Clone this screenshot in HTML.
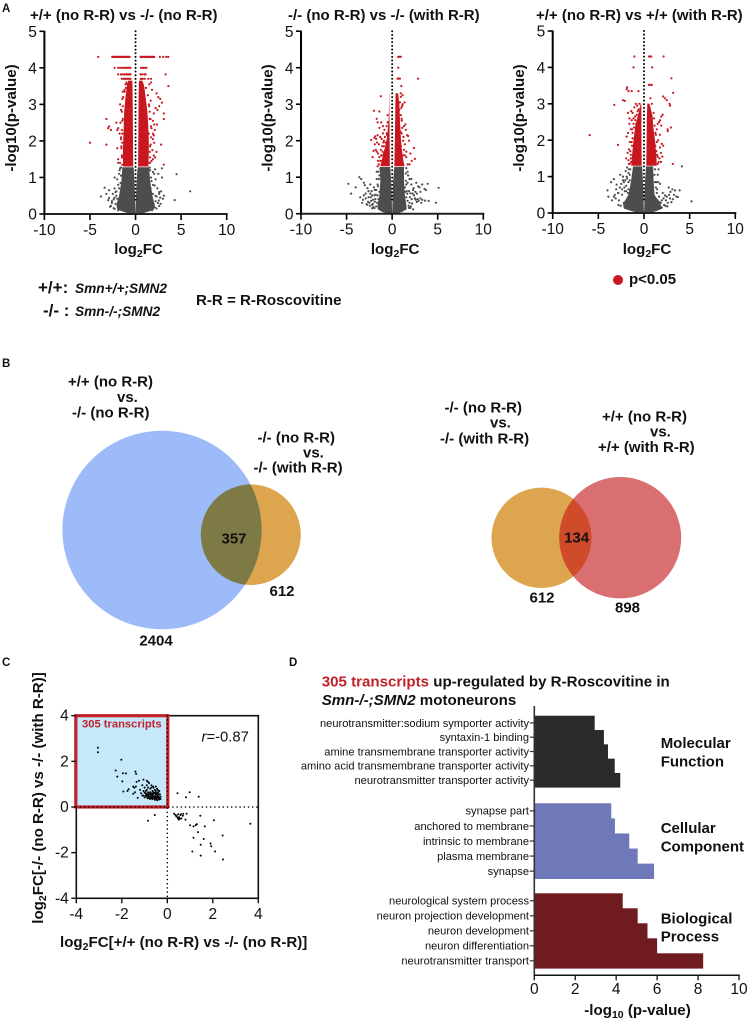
<!DOCTYPE html>
<html lang="en">
<head>
<meta charset="utf-8">
<title>R-Roscovitine transcriptome figure</title>
<style>
html,body{margin:0;padding:0;background:#fff;}
#figure{position:absolute;left:0;top:0;width:749px;height:1019px;display:block;font-family:"Liberation Sans",sans-serif;fill:#111;}
.panel-letter{font-size:11.5px;font-weight:bold;}
.title{font-size:15px;font-weight:bold;}
.tick{font-size:15.5px;}
.axis-title{font-size:15.1px;font-weight:bold;}
.venn{font-size:15px;font-weight:bold;}
.group{font-size:15px;font-weight:bold;}
.bar-label{font-size:11.1px;}
.legend-symbol{font-size:17px;font-weight:bold;}
</style>
</head>
<body>
<svg id="figure" xmlns="http://www.w3.org/2000/svg" width="749" height="1019" viewBox="0 0 749 1019">
  <rect x="0" y="0" width="749" height="1019" fill="#fff"/>

  <text class="panel-letter" x="2" y="12">A</text>
  <text class="panel-letter" x="2" y="367">B</text>
  <text class="panel-letter" x="2" y="666">C</text>
  <text class="panel-letter" x="289" y="666">D</text>

  <g id="volcano-1"></g>
  <g id="volcano-2"></g>
  <g id="volcano-3"></g>

  <text class="title" x="30" y="20">+/+ (no R-R) vs -/- (no R-R)</text>
  <text class="title" x="288" y="20">-/- (no R-R) vs -/- (with R-R)</text>
  <text class="title" x="536" y="20">+/+ (no R-R) vs +/+ (with R-R)</text>

  <text class="legend-symbol" x="38" y="293">+/+:</text>
  <text x="75" y="293" font-size="13.7" font-weight="bold" font-style="italic">Smn+/+;SMN2</text>
  <text class="legend-symbol" x="43" y="316">-/- :</text>
  <text x="75" y="316" font-size="13.7" font-weight="bold" font-style="italic">Smn-/-;SMN2</text>
  <text x="196" y="305" font-size="15.1" font-weight="bold">R-R = R-Roscovitine</text>
  <circle cx="618" cy="280" r="5" fill="#c8171f"/>
  <text x="629" y="284" font-size="15" font-weight="bold">p&lt;0.05</text>

  <g id="venn-left">
    <ellipse cx="250.8" cy="534.7" rx="50" ry="50.3" fill="#dda64e"/>
    <ellipse cx="162" cy="530" rx="99.6" ry="99.3" fill="#9cbbf8"/>
    <clipPath id="clip-orange-left"><ellipse cx="250.8" cy="534.7" rx="50" ry="50.3"/></clipPath>
    <ellipse cx="162" cy="530" rx="99.6" ry="99.3" fill="#7e7a45" clip-path="url(#clip-orange-left)"/>
    <g class="venn">
      <text x="68" y="386.7">+/+ (no R-R)</text>
      <text x="117" y="402">vs.</text>
      <text x="72" y="417.3">-/- (no R-R)</text>
      <text x="257.5" y="442.3">-/- (no R-R)</text>
      <text x="303" y="457.7">vs.</text>
      <text x="253.5" y="472.7">-/- (with R-R)</text>
      <text x="234" y="543.3" text-anchor="middle">357</text>
      <text x="282" y="596" text-anchor="middle">612</text>
      <text x="156" y="645.7" text-anchor="middle">2404</text>
    </g>
  </g>

  <g id="venn-right">
    <ellipse cx="541.5" cy="537.8" rx="50" ry="50.2" fill="#dda64e"/>
    <ellipse cx="620.2" cy="537.7" rx="61" ry="60.7" fill="#d96f70"/>
    <clipPath id="clip-orange-right"><ellipse cx="541.5" cy="537.8" rx="50" ry="50.2"/></clipPath>
    <ellipse cx="620.2" cy="537.7" rx="61" ry="60.7" fill="#cf4b2a" clip-path="url(#clip-orange-right)"/>
    <g class="venn">
      <text x="444.5" y="412.7">-/- (no R-R)</text>
      <text x="490" y="427.3">vs.</text>
      <text x="440" y="443.3">-/- (with R-R)</text>
      <text x="602" y="421.7">+/+ (no R-R)</text>
      <text x="650" y="436.7">vs.</text>
      <text x="598" y="452">+/+ (with R-R)</text>
      <text x="576.6" y="542.3" text-anchor="middle">134</text>
      <text x="542" y="602.3" text-anchor="middle">612</text>
      <text x="627.5" y="612.3" text-anchor="middle">898</text>
    </g>
  </g>

  <g id="scatter"></g>
  <g id="bars"></g>

  <text x="321.7" y="686.5" font-size="15.1" font-weight="bold"><tspan fill="#c0222a">305 transcripts</tspan> up-regulated by R-Roscovitine in</text>
  <text x="321.7" y="705" font-size="15.1" font-weight="bold"><tspan font-style="italic">Smn-/-;SMN2</tspan> motoneurons</text>
  <text class="group" x="660.7" y="748">Molecular</text>
  <text class="group" x="660.7" y="766.5">Function</text>
  <text class="group" x="660.7" y="833">Cellular</text>
  <text class="group" x="660.7" y="851.3">Component</text>
  <text class="group" x="660.7" y="923.3">Biological</text>
  <text class="group" x="660.7" y="941.7">Process</text>
</svg>

<script>
// ---------- Shared tick labels ----------
const volcanoXTicks = [-10, -5, 0, 5, 10];
const volcanoYTicks = [0, 1, 2, 3, 4, 5];
const scatterTicks = [-4, -2, 0, 2, 4];
const barTicks = [0, 2, 4, 6, 8, 10];

// ---------- Volcano 1: +/+ (no R-R) vs -/- (no R-R) ----------
const v1RowP = [4.3, 4.0, 3.82, 3.7];
const v1RowX = [
  [-4.1,-2.56,-2.45,-2.35,-2.25,-2.15,-2.05,-1.95,-1.85,-1.75,-1.65,-1.55,-1.45,-1.35,-1.25,-1.15,-1.05,-0.95,-0.85,-0.75,-0.65,0.55,0.65,0.75,0.85,0.95,1.05,1.15,1.25,1.35,1.45,1.55,1.65,1.75,1.85,1.95,2.05,2.67,3.03,3.36,3.58],
  [-2.3,-1.9,-1.7,-1.5,-1.3,-1.15,-1.0,-0.85,-0.7,-0.55,0.6,0.75,0.85,1.0,1.2],
  [-1.9,-1.6,-1.4,-1.2,-1.0,-0.85,-0.7,-0.55,0.55,0.7,0.95,1.1,3.3],
  [-1.5,-1.3,-1.15,-1.0,-0.85,-0.7,-0.55,0.55,0.65,0.8,1.0,1.4,1.7]
];
const v1RedX = [-5.0,-3.2,-3.2,-2.9,-2.7,-3.0,-2.1,-2.0,-1.9,-2.0,-1.9,-1.9,-1.7,-1.6,-1.5,-1.4,-1.45,-1.6,-1.55,-1.5,-1.65,-1.45,-1.4,-1.0,-0.9,-0.8,-0.75,-1.2,-1.05,3.6,3.1,3.1,2.9,2.7,2.5,2.3,2.2,2.0,1.9,2.0,2.3,2.0,1.9,3.1,2.8,1.8,1.65,1.5,2.1,2.4,1.55,1.7,1.9,1.45,1.6,1.75,2.6,2.35,1.5,1.7,1.55,1.6];
const v1RedY = [1.95,1.9,2.6,2.4,2.3,2.35,2.5,2.3,2.35,1.8,1.5,1.4,3.0,2.85,2.8,2.6,2.2,2.05,1.85,1.6,2.5,3.15,3.35,3.6,3.55,3.5,3.45,3.35,3.45,3.5,2.75,2.6,3.05,3.15,3.2,3.3,2.9,2.75,2.55,2.15,1.7,1.6,1.5,1.35,1.9,3.4,3.1,2.95,2.3,2.85,2.6,2.4,2.05,2.2,1.85,1.45,2.95,2.45,3.55,3.6,1.7,1.4];
const v1RedMore = [[-1.45,1.35],[-1.5,1.55],[-1.55,1.8],[-1.6,2.1],[-1.5,2.3],[-1.45,2.55],[-1.4,2.95],[-1.35,3.2],[-1.2,3.4],[-1.45,1.95],[-1.7,1.4],[-1.75,2.2],[-1.1,3.55],[1.5,1.4],[1.6,1.55],[1.65,1.9],[1.7,2.1],[1.75,2.35],[1.65,2.6],[1.55,2.8],[1.45,3.0],[1.35,3.25],[1.15,3.45],[1.85,1.75],[2.05,1.95],[2.15,1.55],[1.9,2.2],[2.05,2.45]];
const v1GreyX = [4.5,6.0,4.3,2.9,3.1,3.0,2.4,2.6,2.8,2.3,2.2,2.55,2.75,1.9,2.1,1.75,1.9,2.05,-2.9,-3.2,-3.8,-3.4,-2.9,-2.6,-2.3,-2.5,-2.1,-1.9,-2.2,-1.7,-2.7,-2.4,-2.0,-3.0,-1.8,-2.3,2.6,2.1,1.7,1.85];
const v1GreyY = [1.09,0.62,0.38,1.25,0.5,0.42,0.7,0.6,0.62,0.48,0.35,0.37,0.28,0.8,0.78,0.9,1.15,1.1,0.65,0.55,0.48,0.72,0.44,0.35,0.45,0.55,0.62,0.8,0.28,1.25,0.22,0.16,0.42,0.38,1.1,0.7,0.22,0.18,0.6,0.32];
const v1GreyMore = [[-2.3,1.0],[-2.0,0.95],[-1.75,1.2],[-1.6,1.05],[-1.65,0.85],[-1.8,0.7],[-2.2,0.6],[-2.4,0.4],[-2.1,0.5],[-2.6,0.3],[-2.8,0.2],[-1.7,0.15],[-1.9,0.1],[-2.3,0.14],[-1.6,1.27],[-1.55,0.6],[1.6,1.2],[1.7,1.0],[1.65,0.7],[1.9,0.55],[2.2,0.5],[2.45,0.3],[2.7,0.45],[2.0,0.25],[2.3,0.15],[1.8,0.1],[2.6,0.55],[1.55,1.27],[2.15,1.22],[2.5,1.1],[2.9,1.0],[2.2,0.95]];
const v1RedBandP = [1.3,1.6,2.0,2.4,2.8,3.2,3.5,3.65];
const v1RedBandLeftOuter = [-1.35,-1.4,-1.35,-1.3,-1.25,-1.1,-0.95,-0.8];
const v1RedBandLeftInner = [-0.26,-0.27,-0.28,-0.29,-0.3,-0.32,-0.34,-0.36];
const v1RedBandRightInner = [0.28,0.29,0.3,0.31,0.32,0.34,0.36,0.38];
const v1RedBandRightOuter = [1.4,1.45,1.45,1.4,1.3,1.1,0.95,0.75];
const v1GreyBandP = [0,0.05,0.12,0.25,0.5,0.9,1.28];
const v1GreyBandLeftOuter = [-0.5,-1.2,-2.0,-2.1,-1.8,-1.55,-1.45];
const v1GreyBandLeftInner = [0,-0.01,-0.02,-0.03,-0.06,-0.12,-0.2];
const v1GreyBandRightInner = [0,0.01,0.02,0.03,0.06,0.12,0.22];
const v1GreyBandRightOuter = [0.5,1.2,2.0,2.1,1.85,1.6,1.5];

// ---------- Volcano 2: -/- (no R-R) vs -/- (with R-R) ----------
const v2RowP = [4.3, 4.0, 3.7];
const v2RowX = [
  [0.65,0.75,0.85,0.95],
  [0.68],
  [0.6,0.7,0.85,2.85]
];
const v2RedX = [-1.25,-2.0,-1.4,-1.7,-1.6,-1.2,-1.0,-1.4,-1.6,-1.85,-1.3,-1.95,-2.3,-1.9,-1.8,-1.7,-1.55,-1.4,-1.2,-1.1,-0.9,-0.75,-1.65,-1.45,-1.75,-2.05,-2.15,-1.25,-1.05,-0.95,-0.7,-0.6,-1.15,-0.85,-0.55,-0.5,-0.45,-0.9,-1.3,-1.55,1.35,1.0,1.15,0.95,1.45,1.1,1.3,1.5,1.65,1.75,1.85,2.0,2.4,2.5,2.15,1.25,1.4,0.95,1.05,1.55,1.2,0.9,0.8,0.85,0.95,1.05];
const v2RedY = [3.22,2.82,2.8,2.6,2.5,2.5,2.4,2.35,2.15,2.12,2.1,2.08,2.02,1.9,1.75,1.7,1.65,1.55,1.6,1.85,2.0,1.75,1.95,1.9,2.05,1.72,1.55,1.75,1.7,1.95,1.6,2.2,2.05,2.3,2.15,2.5,1.95,1.65,1.45,1.45,3.05,3.5,3.25,3.3,2.45,2.95,2.4,2.3,2.15,2.13,2.0,1.65,1.8,1.5,1.45,2.1,1.9,2.7,2.6,1.7,1.6,2.25,2.85,3.05,1.85,2.2];
const v2RedMore = [[-0.7,1.95],[-0.9,1.85],[-1.1,1.6],[-1.25,1.45],[-1.45,1.35],[-1.6,1.3],[-0.65,1.65],[-0.8,2.1],[-1.0,2.2],[-0.6,2.4],[-0.5,2.7],[1.1,2.35],[1.2,2.0],[1.3,1.75],[1.4,1.6],[1.55,1.55],[1.05,2.55],[1.0,2.9],[0.95,3.2],[1.7,1.35],[1.9,1.35],[1.15,3.0]];
const v2GreyX = [-4.8,-4.5,-4.0,-3.6,-3.4,-3.1,-3.0,-2.7,-2.6,-2.4,-2.9,-3.2,-2.3,-2.5,-2.1,-2.2,-1.9,-2.0,-1.7,-1.8,-2.6,-2.2,-1.5,-1.6,-1.9,-2.05,-1.4,-1.3,-3.3,-2.8,5.1,4.8,3.9,3.7,3.55,3.3,3.0,2.85,2.65,3.1,2.3,2.1,2.4,2.6,1.9,2.0,1.75,1.9,1.6,1.7,1.5,2.2,2.5,2.8,3.3,3.6,1.55,1.4,2.05,1.85];
const v2GreyY = [0.82,0.55,0.72,1.0,0.95,0.85,0.78,0.7,0.45,0.55,0.42,0.38,0.35,0.3,0.27,0.5,0.65,0.72,0.95,0.52,0.62,0.24,0.4,0.8,0.33,0.18,0.6,1.22,0.3,0.26,0.71,0.3,0.82,0.65,0.68,0.8,0.72,0.75,0.85,0.42,0.65,0.8,0.5,0.38,0.95,0.56,1.05,0.3,0.62,0.85,1.1,0.28,0.42,0.4,0.38,0.36,0.45,0.72,0.2,0.16];
const v2GreyMore = [[-1.5,1.15],[-1.45,0.95],[-1.55,0.75],[-1.6,0.5],[-1.75,0.65],[-1.85,0.4],[-1.95,0.5],[-2.1,0.38],[-2.25,0.62],[-2.35,0.45],[-2.45,0.22],[-2.65,0.33],[-2.75,0.25],[-2.9,0.55],[-3.1,0.5],[-3.5,0.45],[-1.65,0.3],[-1.75,0.2],[-1.95,0.15],[-2.2,0.15],[-1.4,1.05],[-2.4,0.8],[-1.7,1.15],[1.5,0.9],[1.55,0.8],[1.65,0.55],[1.7,0.35],[1.85,0.62],[1.95,0.45],[2.15,0.4],[2.25,0.55],[2.35,0.7],[2.55,0.6],[2.7,0.55],[2.9,0.35],[3.1,0.6],[3.2,0.3],[1.8,0.22],[2.0,0.16],[2.3,0.12],[1.55,1.25],[1.7,1.15],[2.1,0.95],[2.7,0.32],[4.0,0.35],[1.45,0.6]];
const v2RedBandP = [1.3,1.5,1.8,2.1,2.6,3.0,3.3];
const v2RedBandLeftOuter = [-1.3,-1.1,-0.8,-0.55,-0.38,-0.34,-0.32];
const v2RedBandLeftInner = [-0.25,-0.26,-0.27,-0.28,-0.29,-0.3,-0.3];
const v2RedBandRightInner = [0.25,0.26,0.28,0.3,0.33,0.36,0.38];
const v2RedBandRightOuter = [1.35,1.2,1.05,0.95,0.85,0.8,0.65];
const v2GreyBandP = [0,0.05,0.12,0.25,0.5,0.9,1.28];
const v2GreyBandLeftOuter = [-0.5,-1.1,-1.6,-1.6,-1.4,-1.3,-1.35];
const v2GreyBandLeftInner = [0,-0.01,-0.02,-0.03,-0.06,-0.12,-0.2];
const v2GreyBandRightInner = [0,0.01,0.02,0.03,0.06,0.12,0.22];
const v2GreyBandRightOuter = [0.5,1.1,1.6,1.55,1.4,1.3,1.3];

// ---------- Volcano 3: +/+ (no R-R) vs +/+ (with R-R) ----------
const v3RowP = [4.3, 4.0, 3.52];
const v3RowX = [
  [-1.05,0.55,0.65,0.8,2.15],
  [-1.15,0.9],
  [0.55,0.65,0.85]
];
const v3RedX = [-5.95,-3.25,-2.1,-1.85,-1.7,-1.35,-0.6,-2.85,-2.3,-1.9,-1.75,-1.6,-1.4,-1.25,-1.05,-0.9,-0.75,-0.6,-1.6,-1.35,-1.15,-1.75,-1.45,-1.25,-0.95,-1.9,-1.55,-1.65,-1.3,-1.45,-1.1,-0.8,-1.95,-1.7,-1.4,-1.25,-1.1,-1.55,-0.85,-1.8,3.0,3.2,2.95,2.1,2.3,2.5,2.6,2.8,2.85,3.15,2.6,1.9,1.75,1.9,2.05,1.5,1.65,1.95,2.1,1.75,1.4,1.55,1.3,1.85,1.7,1.25,1.5,1.6,1.35];
const v3RedY = [2.14,2.97,3.08,3.45,3.35,3.35,3.35,1.87,3.1,3.4,2.75,2.6,2.8,2.75,2.9,3.0,2.95,2.85,2.45,2.55,2.6,2.2,2.3,2.2,2.55,2.1,1.95,1.75,1.85,1.6,2.35,2.7,1.5,1.45,1.4,2.05,1.75,1.35,2.45,1.65,3.7,3.3,2.35,3.2,3.15,3.1,2.25,3.0,2.95,1.35,2.3,2.65,2.55,2.4,2.7,2.45,2.5,1.9,1.85,2.15,2.3,2.0,2.15,1.65,1.5,1.85,1.55,1.4,1.7];
const v3RedMore = [[-1.45,1.5],[-1.5,1.7],[-1.35,1.95],[-1.3,2.3],[-1.15,2.45],[-0.95,2.65],[-0.7,2.8],[-0.5,3.0],[-1.65,1.35],[1.45,1.6],[1.5,1.35],[1.4,1.95],[1.25,2.2],[1.15,2.4],[1.1,2.6],[1.05,2.75],[0.85,3.0],[0.7,3.15],[1.85,1.4],[2.0,1.55],[1.75,1.8]];
const v3GreyX = [-4.0,-3.9,-3.6,-3.3,-3.0,-3.05,-2.8,-2.6,-2.5,-2.3,-2.2,-2.0,-1.85,-2.4,-2.1,-1.95,-1.7,-2.2,-2.75,-3.2,-1.55,-1.7,-1.85,-1.6,-2.05,4.15,5.2,3.9,3.7,3.4,3.1,2.9,2.7,2.85,3.15,3.0,2.4,2.2,2.05,1.75,1.85,1.6,1.5,2.3,2.6,1.45,1.65,1.35];
const v3GreyY = [0.62,0.45,0.85,0.93,0.78,0.65,0.55,1.05,0.8,1.0,0.85,1.15,1.25,0.5,0.6,0.75,1.1,0.28,0.35,0.5,0.9,0.65,0.95,0.45,0.25,1.28,0.32,0.62,0.44,0.62,0.65,0.58,0.7,0.4,0.38,0.3,0.35,0.22,0.55,0.8,0.28,1.2,1.05,0.48,0.28,0.65,0.45,0.85];
const v3GreyMore = [[-1.5,1.2],[-1.55,1.05],[-1.7,0.85],[-1.75,0.55],[-1.95,0.6],[-2.15,0.7],[-2.4,0.65],[-2.65,0.7],[-2.85,0.55],[-3.1,0.4],[-3.3,0.45],[-3.5,0.35],[-2.55,0.2],[-2.8,0.22],[-2.05,0.9],[-2.3,0.9],[-1.9,1.0],[-1.65,1.2],[1.15,1.05],[1.2,0.85],[1.3,0.7],[1.4,0.55],[1.25,0.4],[1.5,0.35],[1.7,0.3],[1.95,0.35],[2.15,0.4],[2.5,0.45],[2.75,0.5],[3.3,0.5],[3.55,0.45],[2.35,0.2],[2.55,0.18],[1.95,0.15],[1.2,1.2],[1.55,0.85]];
const v3RedBandP = [1.3,1.6,2.0,2.4,2.65,3.0];
const v3RedBandLeftOuter = [-1.4,-1.3,-1.15,-0.95,-0.7,-0.35];
const v3RedBandLeftInner = [-0.25,-0.26,-0.27,-0.28,-0.28,-0.3];
const v3RedBandRightInner = [0.25,0.26,0.28,0.3,0.32,0.36];
const v3RedBandRightOuter = [1.4,1.35,1.2,1.0,0.95,0.6];
const v3GreyBandP = [0,0.05,0.12,0.25,0.5,0.9,1.28];
const v3GreyBandLeftOuter = [-0.5,-1.3,-2.2,-2.3,-1.7,-1.4,-1.2];
const v3GreyBandLeftInner = [0,-0.01,-0.02,-0.03,-0.06,-0.12,-0.2];
const v3GreyBandRightInner = [0,0.01,0.02,0.03,0.06,0.12,0.22];
const v3GreyBandRightOuter = [0.5,1.3,2.0,1.8,1.15,1.05,1.0];

// ---------- Scatter plot (panel C) ----------
const scatterX = [-3.05,-3.05,-2.02,-2.27,-2.2,-1.95,-1.82,-1.98,-1.93,-1.75,-1.7,-1.4,-1.37,-1.5,-1.45,-1.38,-1.35,-1.25,-1.42,-1.5,-1.3,-1.05,-0.9,-0.85,-1.2,-1.15,-1.1,-1.05,-1.0,-0.95,-0.9,-0.85,-0.8,-0.75,-0.7,-0.65,-0.6,-0.55,-0.5,-0.45,-0.4,-0.35,-1.1,-1.05,-1.0,-0.95,-0.9,-0.85,-0.8,-0.75,-0.7,-0.65,-0.6,-0.55,-0.5,-0.45,-0.4,-0.35,-0.3,-1.0,-0.95,-0.9,-0.85,-0.8,-0.75,-0.7,-0.65,-0.6,-0.55,-0.5,-0.45,-0.4,-0.35,-0.3,-0.92,-0.86,-0.82,-0.76,-0.72,-0.66,-0.62,-0.56,-0.52,-0.46,-0.42,-0.36,-0.32,-0.8,-0.74,-0.68,-0.64,-0.58,-0.54,-0.48,-0.44,-0.38,-0.34,-0.7,-0.62,-0.5,-0.42,-0.85,-0.55,-0.45,0.45,0.98,0.82,1.38,0.3,0.36,0.42,0.48,0.52,0.58,0.62,0.68,0.4,0.46,0.55,0.6,0.5,0.7,0.8,1.45,0.85,2.05,3.65,2.43,1.0,1.15,1.25,1.3,1.65,1.35,1.15,1.6,1.9,1.93,1.47,1.1,2.1,1.47,2.45];
const scatterY = [2.6,2.4,2.07,1.6,1.33,1.48,1.47,1.12,0.68,0.7,0.78,1.55,1.45,0.9,0.85,0.9,1.1,1.15,0.65,0.58,0.4,1.2,1.15,1.1,0.75,0.6,0.95,0.5,0.85,0.7,0.95,0.55,1.05,0.8,0.95,0.7,0.85,0.75,0.7,0.8,0.65,0.7,0.5,0.7,0.62,0.5,0.75,0.65,0.55,0.65,0.55,0.6,0.65,0.6,0.55,0.6,0.55,0.55,0.45,0.42,0.6,0.45,0.5,0.45,0.42,0.45,0.5,0.45,0.42,0.45,0.42,0.45,0.42,0.35,0.55,0.38,0.6,0.35,0.6,0.35,0.55,0.35,0.62,0.33,0.5,0.33,0.55,0.4,0.52,0.38,0.4,0.38,0.48,0.38,0.48,0.38,0.35,0.85,0.9,0.9,0.75,0.85,0.32,0.3,0.6,0.65,0.43,0.45,-0.3,-0.35,-0.4,-0.32,-0.45,-0.35,-0.5,-0.38,-0.42,-0.48,-0.52,-0.32,-0.55,-0.3,-0.55,-0.38,-0.3,-0.58,-0.73,-1.25,-0.8,-0.85,-0.8,-0.75,-0.85,-1.1,-1.35,-1.4,-1.6,-1.72,-1.65,-1.95,-1.95,-2.13,-2.3];
const scatterExtraLeftX = [-0.85,-0.55];
const scatterExtraLeftY = [-0.6,-0.35];

// ---------- Enrichment bars (panel D) ----------
const molecularTerms = ["neurotransmitter:sodium symporter activity","syntaxin-1 binding","amine transmembrane transporter activity","amino acid transmembrane transporter activity","neurotransmitter transporter activity"];
const molecularValues = [2.95,3.4,3.6,3.93,4.2];
const cellularTerms = ["synapse part","anchored to membrane","intrinsic to membrane","plasma membrane","synapse"];
const cellularValues = [3.76,3.94,4.64,5.05,5.85];
const biologicalTerms = ["neurological system process","neuron projection development","neuron development","neuron differentiation","neurotransmitter transport"];
const biologicalValues = [4.32,5.05,5.53,6.0,8.25];

const NS = 'http://www.w3.org/2000/svg';
function mk(parent, tag, attrs, text) {
  const el = document.createElementNS(NS, tag);
  for (const k in attrs) el.setAttribute(k, attrs[k]);
  if (text !== undefined) el.textContent = text;
  parent.appendChild(el);
  return el;
}

function bandPath(levels, outer, inner, sx, sy) {
  let pts = [];
  levels.forEach(function (p, i) { pts.push(sx(outer[i]).toFixed(1) + ',' + sy(p).toFixed(1)); });
  for (let i = levels.length - 1; i >= 0; i--) pts.push(sx(inner[i]).toFixed(1) + ',' + sy(levels[i]).toFixed(1));
  return pts.join(' ');
}

function drawVolcano(id, frame, d) {
  const g = document.getElementById(id);
  const sx = function (v) { return frame.x0 + (v + 10) / 20 * (frame.x1 - frame.x0); };
  const sy = function (v) { return frame.y0 - v / 5 * (frame.y0 - frame.y1); };

  // Dense clouds
  [[d.redP, d.redLO, d.redLI, '#c8171f', 'red-cloud-left'], [d.redP, d.redRO, d.redRI, '#c8171f', 'red-cloud-right'],
   [d.greyP, d.greyLO, d.greyLI, '#4d4d4d', 'grey-cloud-left'], [d.greyP, d.greyRO, d.greyRI, '#4d4d4d', 'grey-cloud-right']].forEach(function (b) {
    const poly = mk(g, 'polygon', { points: bandPath(b[0], b[1], b[2], sx, sy), fill: b[3] });
    
    
  });

  // Individual grey transcripts
  d.greyX.forEach(function (x, i) {
    const c = mk(g, 'circle', { cx: sx(x).toFixed(1), cy: sy(d.greyY[i]).toFixed(1), r: 1.1, fill: '#4d4d4d' });
    
    
  });
  d.greyMore.forEach(function (pt) {
    const c = mk(g, 'circle', { cx: sx(pt[0]).toFixed(1), cy: sy(pt[1]).toFixed(1), r: 1.1, fill: '#4d4d4d' });
    
    
  });
  // Individual red transcripts
  d.redX.forEach(function (x, i) {
    const c = mk(g, 'circle', { cx: sx(x).toFixed(1), cy: sy(d.redY[i]).toFixed(1), r: 1.1, fill: '#c8171f' });
    
    
  });
  d.redMore.forEach(function (pt) {
    const c = mk(g, 'circle', { cx: sx(pt[0]).toFixed(1), cy: sy(pt[1]).toFixed(1), r: 1.1, fill: '#c8171f' });
    
    
  });
  // Discrete p-value rows at the top of the cloud
  d.rowP.forEach(function (p, r) {
    d.rowX[r].forEach(function (x) {
      const c = mk(g, 'circle', { cx: sx(x).toFixed(1), cy: sy(p).toFixed(1), r: 1.1, fill: '#c8171f' });
      
      
    });
  });

  // Centre dotted line
  const dl = mk(g, 'line', { x1: sx(0), x2: sx(0), y1: sy(5), y2: sy(0.3), stroke: '#000', 'stroke-width': 2, 'stroke-dasharray': '0 3.66', 'stroke-linecap': 'round' });
  
  

  // Axes
  const ya = mk(g, 'line', { x1: frame.x0, x2: frame.x0, y1: sy(5) - 0.5, y2: sy(0) + 1, stroke: '#000', 'stroke-width': 2 });
  
  
  const xa = mk(g, 'line', { x1: frame.x0 - 1, x2: frame.x1 + 1, y1: sy(0), y2: sy(0), stroke: '#222', 'stroke-width': 2 });
  
  

  volcanoYTicks.forEach(function (t) {
    const tk = mk(g, 'line', { x1: frame.x0 - 5, x2: frame.x0, y1: sy(t), y2: sy(t), stroke: '#000', 'stroke-width': 1.6 });
    
    
    const tl = mk(g, 'text', { x: frame.x0 - 7.5, y: sy(t) + 5.6, 'text-anchor': 'end', class: 'tick' }, String(t));
    
    
  });
  volcanoXTicks.forEach(function (t) {
    const tk = mk(g, 'line', { x1: sx(t), x2: sx(t), y1: sy(0), y2: sy(0) + 6, stroke: '#000', 'stroke-width': 1.6 });
    
    
    const tl = mk(g, 'text', { x: sx(t), y: sy(0) + 21, 'text-anchor': 'middle', class: 'tick' }, String(t));
    
    
  });

  // Axis titles
  const yt = mk(g, 'text', { transform: 'translate(' + (frame.x0 - 28.5) + ',118) rotate(-90)', 'text-anchor': 'middle', class: 'axis-title' }, '-log10(p-value)');
  
  
  const xt = mk(g, 'text', { x: sx(0) + 3, y: 254, 'text-anchor': 'middle', class: 'axis-title' });
  
  
  mk(xt, 'tspan', {}, 'log');
  mk(xt, 'tspan', { 'font-size': '10.5', dy: '3' }, '2');
  mk(xt, 'tspan', { dy: '-3' }, 'FC');
}

drawVolcano('volcano-1', { x0: 44.4, x1: 226.7, y0: 214, y1: 31.3 }, {
  rowP: v1RowP, rowX: v1RowX, redX: v1RedX, redY: v1RedY, redMore: v1RedMore, greyX: v1GreyX, greyY: v1GreyY, greyMore: v1GreyMore,
  redP: v1RedBandP, redLO: v1RedBandLeftOuter, redLI: v1RedBandLeftInner, redRI: v1RedBandRightInner, redRO: v1RedBandRightOuter,
  greyP: v1GreyBandP, greyLO: v1GreyBandLeftOuter, greyLI: v1GreyBandLeftInner, greyRI: v1GreyBandRightInner, greyRO: v1GreyBandRightOuter
});
drawVolcano('volcano-2', { x0: 301, x1: 483.3, y0: 213.7, y1: 31.2 }, {
  rowP: v2RowP, rowX: v2RowX, redX: v2RedX, redY: v2RedY, redMore: v2RedMore, greyX: v2GreyX, greyY: v2GreyY, greyMore: v2GreyMore,
  redP: v2RedBandP, redLO: v2RedBandLeftOuter, redLI: v2RedBandLeftInner, redRI: v2RedBandRightInner, redRO: v2RedBandRightOuter,
  greyP: v2GreyBandP, greyLO: v2GreyBandLeftOuter, greyLI: v2GreyBandLeftInner, greyRI: v2GreyBandRightInner, greyRO: v2GreyBandRightOuter
});
drawVolcano('volcano-3', { x0: 552.7, x1: 735.3, y0: 213, y1: 31 }, {
  rowP: v3RowP, rowX: v3RowX, redX: v3RedX, redY: v3RedY, redMore: v3RedMore, greyX: v3GreyX, greyY: v3GreyY, greyMore: v3GreyMore,
  redP: v3RedBandP, redLO: v3RedBandLeftOuter, redLI: v3RedBandLeftInner, redRI: v3RedBandRightInner, redRO: v3RedBandRightOuter,
  greyP: v3GreyBandP, greyLO: v3GreyBandLeftOuter, greyLI: v3GreyBandLeftInner, greyRI: v3GreyBandRightInner, greyRO: v3GreyBandRightOuter
});

// ---------- Scatter ----------
(function () {
  const g = document.getElementById('scatter');
  const x0 = 76.3, x1 = 258.3, y0 = 898.3, y1 = 715.7;
  const sx = function (v) { return x0 + (v + 4) / 8 * (x1 - x0); };
  const sy = function (v) { return y0 - (v + 4) / 8 * (y0 - y1); };

  const quad = mk(g, 'rect', { x: sx(-4), y: sy(4), width: sx(0) - sx(-4), height: sy(0) - sy(4), fill: '#c5e8fb' });
  
  
  const frameRect = mk(g, 'rect', { x: x0, y: y1, width: x1 - x0, height: y0 - y1, fill: 'none', stroke: '#111', 'stroke-width': 1.6 });
  
  
  const border = mk(g, 'rect', { x: sx(-4) - 0.5, y: sy(4), width: sx(0) - sx(-4) + 1, height: sy(0) - sy(4), fill: 'none', stroke: '#c0222a', 'stroke-width': 3.2 });
  
  

  const hz = mk(g, 'line', { x1: x0, x2: x1, y1: sy(0), y2: sy(0), stroke: '#000', 'stroke-width': 1.6, 'stroke-dasharray': '0 4.2', 'stroke-linecap': 'round' });
  
  
  const vt = mk(g, 'line', { x1: sx(0), x2: sx(0), y1: y1, y2: y0, stroke: '#000', 'stroke-width': 1.6, 'stroke-dasharray': '0 4.2', 'stroke-linecap': 'round' });
  
  

  scatterX.forEach(function (x, i) {
    const c = mk(g, 'circle', { cx: sx(x).toFixed(1), cy: sy(scatterY[i]).toFixed(1), r: 1, fill: '#000' });
    
    
  });
  scatterExtraLeftX.forEach(function (x, i) {
    const c = mk(g, 'circle', { cx: sx(x).toFixed(1), cy: sy(scatterExtraLeftY[i]).toFixed(1), r: 1, fill: '#000' });
    
    
  });

  scatterTicks.forEach(function (t) {
    const a = mk(g, 'line', { x1: x0 - 5, x2: x0, y1: sy(t), y2: sy(t), stroke: '#111', 'stroke-width': 1.4 });
    
    
    const b = mk(g, 'line', { x1: sx(t), x2: sx(t), y1: y0, y2: y0 + 5, stroke: '#111', 'stroke-width': 1.4 });
    
    
    const yl = mk(g, 'text', { x: x0 - 7.5, y: sy(t) + 5, 'text-anchor': 'end', class: 'tick' }, String(t));
    
    
    const xl = mk(g, 'text', { x: sx(t), y: 919, 'text-anchor': 'middle', class: 'tick' }, String(t));
    
    
  });

  const lab = mk(g, 'text', { x: 82, y: 727.5, 'font-size': 11.2, 'font-weight': 'bold', fill: '#c0222a' }, '305 transcripts');
  
  
  const rt = mk(g, 'text', { x: 201.5, y: 741.5, 'font-size': 14.8 });
  
  
  mk(rt, 'tspan', { 'font-style': 'italic' }, 'r');
  mk(rt, 'tspan', {}, '=-0.87');

  const xt = mk(g, 'text', { x: 60, y: 947, class: 'axis-title' });
  
  
  mk(xt, 'tspan', {}, 'log');
  mk(xt, 'tspan', { 'font-size': '10.5', dy: '3' }, '2');
  mk(xt, 'tspan', { dy: '-3' }, 'FC[+/+ (no R-R) vs -/- (no R-R)]');
  const yt = mk(g, 'text', { transform: 'translate(43,798) rotate(-90)', 'text-anchor': 'middle', class: 'axis-title' });
  
  
  mk(yt, 'tspan', {}, 'log');
  mk(yt, 'tspan', { 'font-size': '10.5', dy: '3' }, '2');
  mk(yt, 'tspan', { dy: '-3' }, 'FC[-/- (no R-R) vs -/- (with R-R)]');
})();

// ---------- Bars ----------
(function () {
  const g = document.getElementById('bars');
  const x0 = 534.3, x1 = 739;
  const sx = function (v) { return x0 + v / 10 * (x1 - x0); };
  const axisY = 975.3;

  function group(terms, values, top, bottom, color) {
    const h = (bottom - top) / values.length;
    values.forEach(function (v, i) {
      const y = top + i * h;
      const b = mk(g, 'rect', { x: x0, y: y.toFixed(2), width: (sx(v) - x0).toFixed(2), height: (h + 0.3).toFixed(2), fill: color });
      
      
      const tk = mk(g, 'line', { x1: x0 - 4.5, x2: x0, y1: (y + h / 2).toFixed(2), y2: (y + h / 2).toFixed(2), stroke: '#333', 'stroke-width': 1.2 });
      
      
      const tl = mk(g, 'text', { x: 529, y: (y + h / 2 + 3.9).toFixed(2), 'text-anchor': 'end', class: 'bar-label' }, terms[i]);
      
      
    });
  }
  group(molecularTerms, molecularValues, 715.7, 787.3, '#2a2a2a');
  group(cellularTerms, cellularValues, 803.3, 878.7, '#6f78b8');
  group(biologicalTerms, biologicalValues, 893.3, 968.3, '#701b20');

  const ya = mk(g, 'line', { x1: x0, x2: x0, y1: 706, y2: axisY + 0.7, stroke: '#333', 'stroke-width': 1.6 });
  
  
  const xa = mk(g, 'line', { x1: x0 - 0.8, x2: x1 + 0.8, y1: axisY, y2: axisY, stroke: '#111', 'stroke-width': 1.5 });
  
  
  barTicks.forEach(function (t) {
    const tk = mk(g, 'line', { x1: sx(t), x2: sx(t), y1: axisY, y2: axisY + 5, stroke: '#111', 'stroke-width': 1.3 });
    
    
    const tl = mk(g, 'text', { x: sx(t), y: 994, 'text-anchor': 'middle', class: 'tick' }, String(t));
    
    
  });
  const xt = mk(g, 'text', { x: 637.5, y: 1015, 'text-anchor': 'middle', class: 'axis-title' });
  
  
  mk(xt, 'tspan', {}, '-log');
  mk(xt, 'tspan', { 'font-size': '10.5', dy: '3' }, '10');
  mk(xt, 'tspan', { dy: '-3' }, ' (p-value)');
})();
</script>
</body>
</html>
